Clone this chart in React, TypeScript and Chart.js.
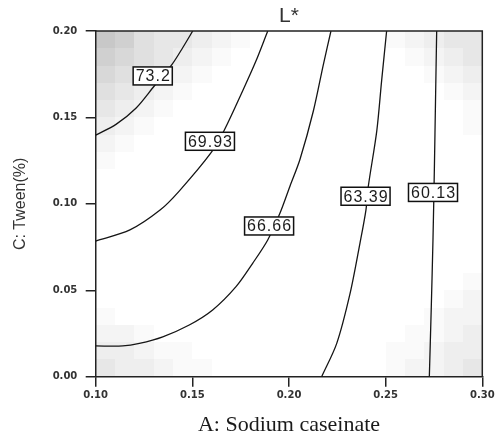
import { useEffect, useRef } from 'react';
import { Chart, registerables } from 'chart.js';

Chart.register(...registerables);

// Axis ranges and ticks
const A_MIN = 0.1;
const A_MAX = 0.3;
const C_MIN = 0;
const C_MAX = 0.2;
const A_TICKS = [0.1, 0.15, 0.2, 0.25, 0.3];
const A_TICK_LABELS = ['0.10', '0.15', '0.20', '0.25', '0.30'];
const C_TICKS = [0, 0.05, 0.1, 0.15, 0.2];
const C_TICK_LABELS = ['0.00', '0.05', '0.10', '0.15', '0.20'];

// Contour levels of L* and their label anchors (A, C)
const CONTOUR_LEVELS = ['73.2', '69.93', '66.66', '63.39', '60.13'];
const LABEL_A = [0.1295, 0.1591, 0.1897, 0.2396, 0.2745];
const LABEL_C = [0.174, 0.1362, 0.0872, 0.1044, 0.1066];

// Contour paths as [A: Sodium caseinate, C: Tween(%)]
const contour732 = [
  [0.1, 0.1398], [0.1105, 0.146], [0.1208, 0.1553], [0.1303, 0.1682],
  [0.1395, 0.1807], [0.145, 0.1903], [0.1502, 0.2],
];
const contour6993 = [
  [0.1, 0.0785], [0.1177, 0.0849], [0.1333, 0.0964], [0.1432, 0.1074],
  [0.1597, 0.1296], [0.1665, 0.1426], [0.176, 0.1653], [0.1829, 0.1826], [0.189, 0.2],
];
const contour6666 = [
  [0.1, 0.0178], [0.114, 0.0178], [0.1226, 0.0193], [0.1347, 0.0231], [0.1484, 0.0299],
  [0.1605, 0.0386], [0.1726, 0.0521], [0.1812, 0.0656], [0.189, 0.0791], [0.1953, 0.0945],
  [0.2005, 0.1102], [0.2057, 0.1258], [0.2126, 0.1537], [0.2178, 0.1807], [0.2217, 0.2],
];
const contour6339 = [
  [0.2169, 0], [0.2247, 0.0193], [0.2316, 0.0482], [0.2367, 0.0772], [0.2398, 0.0964],
  [0.241, 0.1099], [0.2454, 0.1421], [0.2479, 0.171], [0.2505, 0.2],
];
const contour6013 = [
  [0.2726, 0], [0.2736, 0.04], [0.2745, 0.08], [0.2752, 0.12], [0.2758, 0.16], [0.2764, 0.2],
];
const CONTOURS = [contour732, contour6993, contour6666, contour6339, contour6013];

// Prediction-error shading: one string per row (top row first), one digit per 0.01 x 0.01 cell
const CELL = 0.01;
const SHADE_ROWS = [
  '87544321000000012344',
  '76543210000000001234',
  '65432100000000000123',
  '54321000000000000012',
  '43210000000000000001',
  '32100000000000000001',
  '21000000000000000000',
  '10000000000000000000',
  '00000000000000000000',
  '00000000000000000000',
  '00000000000000000000',
  '00000000000000000000',
  '00000000000000000000',
  '00000000000000000000',
  '00000000000000000001',
  '00000000000000000012',
  '10000000000000000122',
  '22100000000000001123',
  '33211000000000011233',
  '43321100000000012234',
];
const SHADE_GRAYS = [255, 250, 244, 238, 231, 224, 216, 208, 200];

const INK = '#222';
const SANS = '"Liberation Sans", Arial, sans-serif';

const shadingPlugin = {
  id: 'seShading',
  beforeDraw(chart: any) {
    const { ctx, scales } = chart;
    const x = scales.x;
    const y = scales.y;
    ctx.save();
    SHADE_ROWS.forEach((row, r) => {
      const cTop = C_MAX - r * CELL;
      for (let i = 0; i < row.length; i++) {
        const lvl = Number(row[i]);
        if (!lvl) continue;
        const a0 = A_MIN + i * CELL;
        const x0 = Math.round(x.getPixelForValue(a0));
        const x1 = Math.round(x.getPixelForValue(a0 + CELL));
        const y0 = Math.round(y.getPixelForValue(cTop));
        const y1 = Math.round(y.getPixelForValue(cTop - CELL));
        const g = SHADE_GRAYS[lvl];
        ctx.fillStyle = `rgb(${g},${g},${g})`;
        ctx.fillRect(x0, y0, x1 - x0, y1 - y0);
      }
    });
    ctx.restore();
  },
};

const frameAndLabelsPlugin = {
  id: 'frameAndLabels',
  afterDatasetsDraw(chart: any) {
    const { ctx, chartArea: ca, scales } = chart;
    const x = scales.x;
    const y = scales.y;
    ctx.save();
    ctx.strokeStyle = INK;
    ctx.lineWidth = 1.5;
    ctx.beginPath();
    ctx.moveTo(ca.left, ca.top);
    ctx.lineTo(ca.right, ca.top);
    ctx.lineTo(ca.right, ca.bottom);
    ctx.stroke();

    ctx.font = `16px ${SANS}`;
    try { (ctx as any).letterSpacing = '1px'; } catch (e) { /* older canvas */ }
    ctx.textAlign = 'center';
    ctx.textBaseline = 'middle';
    CONTOUR_LEVELS.forEach((lab, k) => {
      const px = x.getPixelForValue(LABEL_A[k]);
      const py = y.getPixelForValue(LABEL_C[k]);
      const w = ctx.measureText(lab).width + 4;
      const h = 18;
      ctx.fillStyle = '#fff';
      ctx.fillRect(px - w / 2, py - h / 2, w, h);
      ctx.strokeStyle = '#111';
      ctx.lineWidth = 1.5;
      ctx.strokeRect(px - w / 2, py - h / 2, w, h);
      ctx.fillStyle = '#1c1c1c';
      ctx.fillText(lab, px + 0.5, py + 1);
    });
    ctx.restore();
  },
};

export default function App() {
  const canvasRef = useRef<HTMLCanvasElement | null>(null);

  useEffect(() => {
    const canvas = canvasRef.current;
    if (!canvas) return;
    const chart = new Chart(canvas, {
      type: 'scatter',
      data: {
        datasets: CONTOURS.map((pts, k) => ({
          label: CONTOUR_LEVELS[k],
          data: pts.map(([a, c]) => ({ x: a, y: c })),
          showLine: true,
          borderColor: '#151515',
          borderWidth: 1.3,
          pointRadius: 0,
          pointHoverRadius: 0,
          tension: 0.3,
          fill: false,
        })),
      },
      options: {
        responsive: false,
        animation: false,
        devicePixelRatio: 1,
        layout: { padding: { left: 0, right: 15.7, top: 0, bottom: 0 } },
        plugins: {
          legend: { display: false },
          tooltip: { enabled: false },
          title: {
            display: true,
            text: 'L*',
            fullSize: false,
            color: '#333',
            font: { family: SANS, size: 21, weight: 'normal', lineHeight: 1.2 },
            padding: { top: 3.4, bottom: 2.4 },
          },
        },
        scales: {
          x: {
            type: 'linear',
            min: A_MIN,
            max: A_MAX,
            afterBuildTicks: (scale: any) => {
              scale.ticks = A_TICKS.map((v) => ({ value: v }));
            },
            afterFit: (scale: any) => {
              scale.height = 61.3;
            },
            ticks: {
              autoSkip: false,
              maxRotation: 0,
              padding: 3,
              color: '#333',
              font: { family: '"DejaVu Sans", sans-serif', size: 10, weight: 'bold' },
              callback: (_v: any, i: number) => A_TICK_LABELS[i],
            },
            grid: { drawOnChartArea: false, drawTicks: true, tickLength: 10, color: INK, lineWidth: 1.5 },
            border: { display: true, color: INK, width: 1.5 },
            title: {
              display: true,
              text: 'A: Sodium caseinate',
              color: '#1a1a1a',
              font: { family: '"Liberation Serif", "Times New Roman", serif', size: 22, lineHeight: 1 },
              padding: { top: 0, bottom: 1.7 },
            },
          },
          y: {
            type: 'linear',
            min: C_MIN,
            max: C_MAX,
            afterBuildTicks: (scale: any) => {
              scale.ticks = C_TICKS.map((v) => ({ value: v }));
            },
            afterFit: (scale: any) => {
              scale.width = 95.7;
            },
            ticks: {
              autoSkip: false,
              padding: 8.4,
              color: '#333',
              font: { family: '"DejaVu Sans", sans-serif', size: 10, weight: 'bold' },
              callback: (_v: any, i: number) => C_TICK_LABELS[i],
            },
            grid: { drawOnChartArea: false, drawTicks: true, tickLength: 10, color: INK, lineWidth: 1.5 },
            border: { display: true, color: INK, width: 1.5 },
            title: {
              display: true,
              text: 'C: Tween(%)',
              color: '#333',
              font: { family: SANS, size: 16, lineHeight: 1 },
              padding: { top: 13, bottom: 0 },
            },
          },
        },
      },
      plugins: [shadingPlugin, frameAndLabelsPlugin],
    });
    return () => chart.destroy();
  }, []);

  return (
    <div style={{ position: 'fixed', left: 0, top: 0, width: 498, height: 438, background: '#fff' }}>
      <canvas ref={canvasRef} width={498} height={438} style={{ display: 'block' }} />
    </div>
  );
}
